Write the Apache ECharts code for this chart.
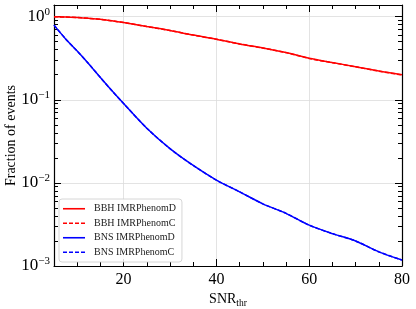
<!DOCTYPE html>
<html><head><meta charset="utf-8">
<script src="https://cdn.jsdelivr.net/npm/echarts@6/dist/echarts.min.js"></script>
<style>html,body{margin:0;padding:0;background:#fff}#c{width:416px;height:309px}</style>
</head><body><div id="c"></div>
<script>
const snr = [5, 7.5, 10, 12.5, 15, 17.5, 20, 25, 30, 35, 40, 45, 50, 55, 60, 65, 70, 75, 80];
const bbhD = [0.995, 0.99, 0.975, 0.955, 0.93, 0.89, 0.85, 0.76, 0.68, 0.60, 0.535, 0.47, 0.42, 0.37, 0.315, 0.28, 0.25, 0.222, 0.20];
const bbhC = [0.995, 0.99, 0.975, 0.955, 0.93, 0.89, 0.85, 0.76, 0.68, 0.60, 0.534, 0.47, 0.419, 0.369, 0.314, 0.279, 0.249, 0.221, 0.199];
const bnsD = [0.79, 0.54, 0.385, 0.27, 0.185, 0.128, 0.09, 0.0455, 0.0258, 0.0162, 0.0108, 0.0078, 0.0056, 0.0043, 0.0031, 0.00245, 0.0020, 0.00148, 0.00118];
const bnsC = [0.79, 0.54, 0.385, 0.27, 0.185, 0.128, 0.09, 0.0455, 0.0258, 0.0162, 0.0108, 0.0078, 0.0056, 0.0043, 0.0031, 0.00245, 0.0020, 0.00148, 0.00118];
const xMajor = [20, 40, 60, 80];
const xMinor = [10, 15, 25, 30, 35, 45, 50, 55, 65, 70, 75];
const yDecadesExp = [-3, -2, -1, 0];
const seriesNames = ['BBH IMRPhenomD', 'BBH IMRPhenomC', 'BNS IMRPhenomD', 'BNS IMRPhenomC'];

const yMinorLog = [];
yDecadesExp.slice(0, 3).forEach(e => { for (let k = 2; k <= 9; k++) yMinorLog.push(e + Math.log10(k)); });

const FONT = 'Liberation Serif';
const toXY = arr => arr.map((v, i) => [snr[i], Math.log10(v)]);
const sup = e => '{b|10}{s|' + (e < 0 ? '\u2212' + (-e) : e) + '}';

const baseX = {min: 5, max: 80, type: 'value'};
const baseY = {min: -3, max: 0.14, type: 'value'};
const lineSty = {show: true, onZero: false, lineStyle: {color: '#000', width: 1.2}};
const noLine = {show: false, onZero: false};
const tickSty = {color: '#000', width: 1};
const gridRect = {left: 54, right: 14, top: 5, bottom: 43, containLabel: false, outerBoundsMode: 'none'};

const solidIcon = 'path://M0,0h22v1.6h-22z';
const dashIcon = 'path://M0,0h4v1.6h-4z M6,0h4v1.6h-4z M12,0h4v1.6h-4z M18,0h4v1.6h-4z';

const minorX = (pos) => Object.assign({}, baseX, {gridIndex: 1, position: pos, axisLine: noLine,
  axisTick: {show: true, inside: true, length: 4, customValues: xMinor, lineStyle: tickSty},
  axisLabel: {show: false}, splitLine: {show: false}});
const minorY = (pos) => Object.assign({}, baseY, {gridIndex: 1, position: pos, axisLine: noLine,
  axisTick: {show: true, inside: true, length: 4, customValues: yMinorLog, lineStyle: tickSty},
  axisLabel: {show: false}, splitLine: {show: false}});

const chart = echarts.init(document.getElementById('c'), null, {renderer: 'canvas'});
chart.setOption({
  animation: false,
  backgroundColor: '#fff',
  grid: [Object.assign({}, gridRect), Object.assign({}, gridRect)],
  xAxis: [
    Object.assign({}, baseX, {gridIndex: 0, position: 'bottom', axisLine: lineSty,
      axisTick: {show: true, inside: true, length: 7, customValues: xMajor, lineStyle: tickSty},
      axisLabel: {customValues: xMajor, fontFamily: FONT, fontSize: 16, color: '#000', margin: 6},
      splitLine: {show: true, lineStyle: {color: '#dcdcdc', width: 0.8}},
      name: '{a|SNR}{t|thr}', nameLocation: 'middle', nameGap: 25, nameMoveOverlap: false,
      nameTextStyle: {rich: {a: {fontFamily: FONT, fontSize: 14, color: '#000'}, t: {fontFamily: FONT, fontSize: 9.5, color: '#000', verticalAlign: 'bottom', padding: [7, 0, 0, 0]}}}}),
    Object.assign({}, baseX, {gridIndex: 0, position: 'top', axisLine: lineSty,
      axisTick: {show: true, inside: true, length: 7, customValues: xMajor, lineStyle: tickSty},
      axisLabel: {show: false}, splitLine: {show: false}}),
    minorX('bottom'),
    minorX('top')
  ],
  yAxis: [
    Object.assign({}, baseY, {gridIndex: 0, position: 'left', axisLine: lineSty,
      axisTick: {show: true, inside: true, length: 7, customValues: yDecadesExp, lineStyle: tickSty},
      axisLabel: {customValues: yDecadesExp, formatter: v => sup(Math.round(v)), margin: 4,
        rich: {b: {fontFamily: FONT, fontSize: 17, color: '#000'}, s: {fontFamily: FONT, fontSize: 11, color: '#000', verticalAlign: 'top', padding: [0, 0, 9, 0]}}},
      splitLine: {show: true, lineStyle: {color: '#dcdcdc', width: 0.8}},
      name: 'Fraction of events', nameLocation: 'middle', nameGap: 36, nameMoveOverlap: false,
      nameTextStyle: {fontFamily: FONT, fontSize: 14, color: '#000'}}),
    Object.assign({}, baseY, {gridIndex: 0, position: 'right', axisLine: lineSty,
      axisTick: {show: true, inside: true, length: 7, customValues: yDecadesExp, lineStyle: tickSty},
      axisLabel: {show: false}, splitLine: {show: false}}),
    minorY('left'),
    minorY('right')
  ],
  legend: {
    orient: 'vertical', left: 59, top: 199, itemWidth: 22, itemHeight: 1.6, itemGap: 3,
    padding: [4, 6, 4, 4], borderColor: '#cccccc', borderWidth: 0.8, borderRadius: 3, backgroundColor: 'rgba(255,255,255,0.85)',
    textStyle: {fontFamily: FONT, fontSize: 10, color: '#222', lineHeight: 11.5, padding: [0, 0, 0, 4]},
    data: [
      {name: seriesNames[0], icon: solidIcon},
      {name: seriesNames[1], icon: dashIcon},
      {name: seriesNames[2], icon: solidIcon},
      {name: seriesNames[3], icon: dashIcon}
    ]
  },
  series: [
    {name: seriesNames[0], type: 'line', xAxisIndex: 0, yAxisIndex: 0, data: toXY(bbhD), showSymbol: false, symbol: 'none', smooth: 0.3, lineStyle: {color: '#ff0000', width: 1.5}, itemStyle: {color: '#ff0000'}},
    {name: seriesNames[1], type: 'line', xAxisIndex: 0, yAxisIndex: 0, data: toXY(bbhC), showSymbol: false, symbol: 'none', smooth: 0.3, lineStyle: {color: '#ff0000', width: 1.5, type: [4, 2]}, itemStyle: {color: '#ff0000'}},
    {name: seriesNames[2], type: 'line', xAxisIndex: 0, yAxisIndex: 0, data: toXY(bnsD), showSymbol: false, symbol: 'none', smooth: 0.3, lineStyle: {color: '#0000ff', width: 1.5}, itemStyle: {color: '#0000ff'}},
    {name: seriesNames[3], type: 'line', xAxisIndex: 0, yAxisIndex: 0, data: toXY(bnsC), showSymbol: false, symbol: 'none', smooth: 0.3, lineStyle: {color: '#0000ff', width: 1.5, type: [4, 2]}, itemStyle: {color: '#0000ff'}}
  ]
});
</script>
</body></html>
